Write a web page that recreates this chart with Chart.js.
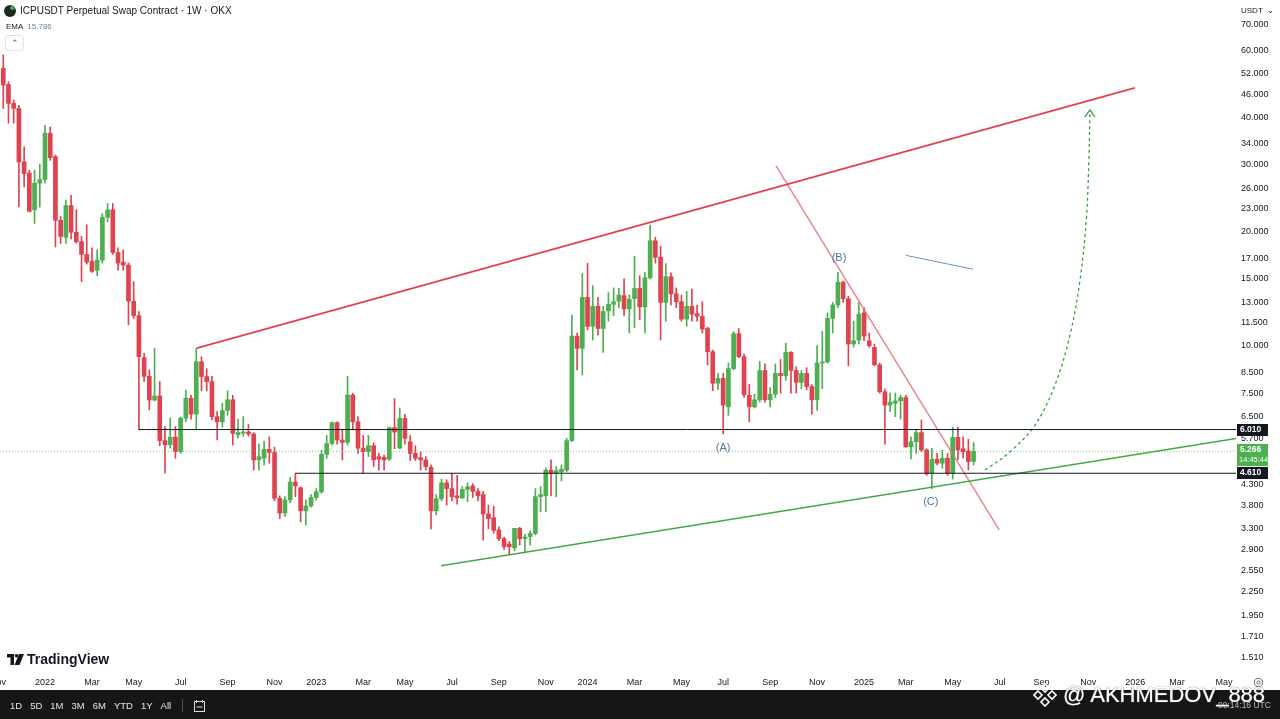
<!DOCTYPE html>
<html>
<head>
<meta charset="utf-8">
<title>ICPUSDT Perpetual Swap Contract 1W</title>
<script src="https://cdn.jsdelivr.net/npm/chart.js@4.4.1/dist/chart.umd.min.js"></script>
<style>
  html, body { margin: 0; padding: 0; background: #fff; overflow: hidden; }
  body { width: 1280px; height: 719px; position: relative; font-family: "Liberation Sans", Arial, sans-serif; color: #131722; }
  #chart { position: absolute; left: 0; top: 0; }
  .abs { position: absolute; white-space: nowrap; }
  #title { left: 20px; top: 5px; font-size: 10px; }
  #coin { left: 4px; top: 5px; width: 12px; height: 12px; border-radius: 50%; background: #1d2a22; }
  #coin:after { content: ""; position: absolute; left: 6px; top: 1px; width: 5px; height: 4px; border-radius: 50%; background: #3fa35a; }
  #ema { left: 6px; top: 22px; font-size: 8px; }
  #ema span { color: #5d83ad; margin-left: 4px; }
  #collapse { left: 5px; top: 35px; width: 17px; height: 14px; border: 1px solid #e0e3eb; border-radius: 3px; font-size: 9px; text-align: center; line-height: 14px; color: #555; }
  #usdt { left: 1241px; top: 6px; font-size: 8px; }
  #tvlogo { left: 7px; top: 651px; font-size: 14px; font-weight: bold; display: flex; align-items: center; gap: 3px; }
  #gear { left: 1253px; top: 677px; }
  #bar { left: 0; top: 690px; width: 1280px; height: 29px; background: #161616; }
  #ranges { left: 10px; top: 699px; font-size: 9.5px; color: #e6e6e6; display: flex; gap: 8px; align-items: center; }
  #ranges .sep { width: 1px; height: 13px; background: #555; margin: 0 3px; }
  #clock { left: 1218px; top: 700px; font-size: 8.5px; color: #bbb; }
  #mark { left: 1033px; top: 682px; display: flex; align-items: center; gap: 6px; font-size: 22px; color: #fff; text-shadow: 0 0 1px #777, 0 0 1px #777; }
</style>
</head>
<body>
<canvas id="chart" width="1280" height="690"></canvas>

<div class="abs" id="coin"></div>
<div class="abs" id="title">ICPUSDT Perpetual Swap Contract · 1W · OKX</div>
<div class="abs" id="ema">EMA<span>15.786</span></div>
<div class="abs" id="collapse">&#8963;</div>
<div class="abs" id="usdt">USDT &nbsp;&#8964;</div>
<div class="abs" id="tvlogo">
  <svg width="17" height="11" viewBox="0 0 17 11"><path d="M0 0h7v11h-3.5v-7.5h-3.5z" fill="#131722"/><circle cx="9.5" cy="1.8" r="1.8" fill="#131722"/><path d="M12 0h5l-4.5 11h-5z" fill="#131722"/></svg>
  <span>TradingView</span>
</div>
<svg class="abs" id="gear" width="11" height="11" viewBox="0 0 11 11"><circle cx="5.5" cy="5.5" r="4.2" fill="none" stroke="#666" stroke-width="1"/><circle cx="5.5" cy="5.5" r="1.6" fill="none" stroke="#666" stroke-width="1"/></svg>
<div class="abs" id="bar"></div>
<div class="abs" id="ranges">
  <span>1D</span><span>5D</span><span>1M</span><span>3M</span><span>6M</span><span>YTD</span><span>1Y</span><span>All</span><span class="sep"></span>
  <svg width="11" height="12" viewBox="0 0 11 12"><rect x="0.5" y="1.5" width="10" height="10" fill="none" stroke="#ddd"/><path d="M2.5 0v3M8.5 0v3M2.5 7h6" stroke="#ddd"/></svg>
</div>
<div class="abs" id="clock">09:14:16 UTC</div>
<div class="abs" id="mark">
  <svg width="24" height="24" viewBox="0 0 24 24"><g fill="none" stroke="#fff" stroke-width="1.6"><path d="M12 1l4 4-4 4-4-4z"/><path d="M5 8l4 4-4 4-4-4z"/><path d="M19 8l4 4-4 4-4-4z"/><path d="M12 15l4 4-4 4-4-4z"/></g></svg>
  <span>@ AKHMEDOV_888</span>
</div>

<script>
// weekly candles, first one is the week of 8 Nov 2021
const firstWeek = '2021-11-08';
const opens = [
  53.8, 48.8, 43.5, 42.2, 30.5, 28.5, 22.8, 26.8, 27.4, 36.3,
  31.5, 21.4, 19.3, 23.4, 19.9, 18.8, 17.4, 16.7, 15.8, 16.8,
  21.8, 22.8, 17.6, 16.6, 16.3, 13.1, 12.0, 9.3, 8.3, 7.19,
  7.37, 5.62, 5.48, 5.74, 5.26, 6.44, 7.27, 6.6, 9.07, 8.29,
  8.04, 6.5, 6.3, 6.75, 7.2, 5.82, 5.88, 5.92, 5.85, 5.0,
  5.05, 5.33, 5.23, 3.96, 3.62, 3.92, 4.37, 4.22, 3.67, 3.78,
  3.98, 4.12, 5.17, 5.52, 6.27, 5.64, 5.56, 7.41, 6.3, 5.37,
  5.26, 5.45, 5.1, 5.08, 5.02, 6.08, 5.37, 6.43, 5.58, 5.2,
  5.07, 5.0, 4.78, 3.67, 3.95, 4.35, 4.2, 4.02, 3.97, 4.18,
  4.27, 4.13, 4.05, 3.6, 3.52, 3.27, 3.1, 3.0, 2.93, 3.3,
  3.1, 3.14, 3.2, 4.0, 4.02, 4.7, 4.61, 4.65, 4.7, 5.62,
  10.6, 9.84, 13.4, 11.25, 12.7, 11.1, 12.35, 12.85, 13.1, 13.55,
  12.5, 13.3, 14.15, 12.65, 15.1, 18.9, 17.1, 13.0, 15.2, 13.7,
  13.05, 11.75, 12.7, 12.15, 11.95, 11.1, 9.64, 7.96, 8.2, 6.9,
  8.7, 10.75, 9.35, 7.4, 6.9, 7.2, 8.6, 7.2, 7.45, 8.45,
  8.33, 9.6, 8.6, 8.0, 8.45, 7.8, 7.2, 9.0, 9.05, 11.8,
  12.8, 14.7, 13.3, 10.1, 10.35, 12.2, 10.3, 9.9, 8.9, 7.56,
  6.97, 7.05, 7.15, 7.3, 5.41, 5.58, 5.9, 5.31, 4.62, 5.02,
  4.9, 5.05, 4.62, 5.73, 5.35, 5.28, 4.95
];
const highs = [
  58.4, 49.6, 44.4, 43.0, 33.4, 29.0, 29.0, 30.1, 38.1, 37.7,
  31.8, 21.9, 24.2, 24.9, 22.8, 19.4, 20.8, 18.1, 17.9, 22.3,
  23.7, 23.7, 18.1, 17.9, 16.5, 14.75, 12.3, 9.55, 8.63, 9.85,
  8.04, 6.12, 6.45, 6.12, 6.48, 7.64, 7.4, 9.85, 9.35, 8.7,
  8.3, 6.7, 7.05, 7.6, 7.4, 6.4, 6.5, 6.2, 5.9, 5.5,
  5.6, 5.75, 5.4, 4.02, 4.0, 4.5, 4.61, 4.25, 3.92, 4.05,
  4.2, 5.3, 5.8, 6.3, 6.3, 5.99, 8.3, 7.5, 6.5, 5.8,
  5.8, 5.55, 5.2, 5.15, 6.1, 7.25, 6.85, 6.6, 5.8, 5.45,
  5.25, 5.1, 4.85, 4.05, 4.45, 4.43, 4.61, 4.55, 4.25, 4.35,
  4.33, 4.2, 4.13, 3.8, 3.78, 3.33, 3.13, 3.05, 3.3, 3.32,
  3.18, 3.25, 4.2, 4.25, 4.76, 5.0, 4.8, 4.85, 5.7, 12.06,
  10.8, 15.5, 16.47, 14.4, 13.4, 12.7, 13.8, 14.2, 14.15, 15.0,
  13.6, 17.2, 15.3, 15.6, 20.8, 19.3, 18.3, 16.45, 15.55, 14.2,
  13.6, 13.9, 14.1, 12.8, 13.05, 11.2, 9.74, 8.45, 8.45, 9.0,
  10.9, 11.1, 9.5, 7.9, 7.45, 9.1, 8.95, 7.75, 8.95, 9.2,
  10.15, 9.65, 8.8, 8.6, 8.75, 7.9, 10.0, 10.9, 12.2, 13.0,
  15.6, 14.8, 13.5, 11.6, 13.0, 12.6, 10.8, 10.1, 9.0, 7.7,
  7.5, 7.5, 7.4, 7.4, 5.75, 6.0, 6.37, 5.35, 5.36, 5.2,
  5.3, 5.2, 6.1, 6.1, 5.75, 5.66, 5.55
];
const lows = [
  42.2, 38.6, 38.6, 23.2, 26.2, 22.5, 21.0, 23.2, 26.8, 30.8,
  18.2, 18.6, 18.6, 19.1, 18.6, 14.75, 16.4, 15.6, 15.3, 16.5,
  21.2, 17.4, 15.8, 15.8, 11.35, 11.8, 6.01, 8.05, 6.77, 7.15,
  5.45, 4.62, 5.37, 5.05, 5.2, 6.3, 6.4, 6.03, 7.6, 7.6,
  6.37, 5.64, 6.1, 6.55, 5.47, 5.7, 5.77, 5.77, 4.7, 4.7,
  4.85, 4.9, 3.9, 3.5, 3.55, 3.85, 4.0, 3.43, 3.37, 3.75,
  3.92, 4.08, 5.05, 5.47, 5.5, 5.0, 5.47, 6.0, 5.2, 4.61,
  5.1, 4.8, 4.7, 4.7, 4.98, 5.35, 5.35, 5.5, 4.98, 4.98,
  4.7, 4.7, 3.29, 3.58, 3.9, 3.8, 3.9, 3.82, 3.95, 3.88,
  3.98, 3.9, 3.07, 3.29, 3.2, 3.06, 2.9, 2.82, 2.88, 2.98,
  2.85, 2.98, 3.17, 3.65, 3.65, 4.02, 4.0, 4.4, 4.65, 5.58,
  8.63, 8.37, 11.0, 10.35, 10.65, 9.6, 11.6, 12.0, 12.6, 12.0,
  10.8, 11.15, 11.7, 10.8, 15.0, 16.5, 10.35, 11.6, 12.8, 12.6,
  11.6, 11.25, 11.6, 11.6, 10.8, 8.9, 7.6, 7.65, 5.85, 6.55,
  8.63, 9.3, 7.3, 6.3, 6.85, 7.1, 7.1, 6.9, 7.3, 7.5,
  8.1, 7.5, 7.5, 7.7, 7.65, 6.6, 6.75, 7.7, 9.0, 10.8,
  12.6, 13.0, 8.85, 9.9, 10.1, 10.3, 9.9, 8.85, 7.5, 5.5,
  6.7, 6.5, 6.4, 5.4, 5.03, 5.2, 5.25, 4.55, 4.2, 4.85,
  4.75, 4.55, 4.45, 5.0, 5.05, 4.7, 4.85
];
const closes = [
  48.6, 43.5, 42.2, 30.5, 28.4, 22.6, 26.8, 27.4, 36.3, 31.3,
  21.4, 19.4, 23.4, 19.9, 18.8, 17.4, 16.6, 15.7, 16.8, 21.8,
  22.8, 17.6, 16.5, 16.3, 13.1, 12.0, 9.35, 8.3, 7.19, 7.37,
  5.62, 5.48, 5.74, 5.26, 6.44, 7.27, 6.6, 9.07, 8.29, 8.04,
  6.5, 6.3, 6.75, 7.2, 5.87, 5.9, 5.92, 5.85, 5.0, 5.1,
  5.33, 5.23, 3.96, 3.62, 3.92, 4.37, 4.27, 3.67, 3.78, 3.98,
  4.12, 5.17, 5.52, 6.27, 5.64, 5.56, 7.41, 6.3, 5.37, 5.26,
  5.45, 5.0, 5.02, 5.0, 6.08, 5.92, 6.43, 5.7, 5.2, 5.05,
  5.0, 4.8, 3.67, 3.95, 4.35, 4.2, 4.0, 3.97, 4.18, 4.25,
  4.13, 4.02, 3.6, 3.5, 3.26, 3.1, 2.95, 2.95, 3.3, 3.1,
  3.13, 3.2, 4.0, 4.05, 4.7, 4.61, 4.68, 4.72, 5.62, 10.6,
  9.84, 13.4, 11.24, 12.7, 11.1, 12.3, 12.85, 13.05, 13.6, 12.5,
  13.25, 14.15, 12.65, 15.1, 18.9, 17.1, 13.0, 15.2, 13.7, 13.05,
  11.75, 12.7, 12.1, 11.95, 11.05, 9.64, 7.96, 8.2, 6.97, 8.7,
  10.75, 9.35, 7.42, 6.9, 7.2, 8.6, 7.2, 7.45, 8.45, 8.33,
  9.6, 8.6, 8.0, 8.45, 7.8, 7.2, 9.0, 9.05, 11.8, 12.8,
  14.7, 13.3, 10.1, 10.3, 12.1, 10.6, 10.0, 8.9, 7.56, 6.97,
  7.1, 7.15, 7.3, 5.41, 5.58, 5.9, 5.31, 4.6, 5.02, 4.9,
  5.05, 4.62, 5.73, 5.31, 5.25, 4.95, 5.266
];

// time axis: first week of each month, counted in weeks from firstWeek
const monthTicks = [-1, 8, 17, 25, 34, 43, 52, 60, 69, 77, 86, 95, 104, 112,
  121, 130, 138, 147, 156, 165, 173, 182, 191, 199, 208, 217, 225, 234];
const monthLabels = ['Nov', '2022', 'Mar', 'May', 'Jul', 'Sep', 'Nov', '2023', 'Mar', 'May', 'Jul', 'Sep', 'Nov', '2024',
  'Mar', 'May', 'Jul', 'Sep', 'Nov', '2025', 'Mar', 'May', 'Jul', 'Sep', 'Nov', '2026', 'Mar', 'May'];
const priceTicks = [70, 60, 52, 46, 40, 34, 30, 26, 23, 20, 17, 15, 13, 11.5, 10, 8.5, 7.5, 6.5, 5.7,
  4.3, 3.8, 3.3, 2.9, 2.55, 2.25, 1.95, 1.71, 1.51];

// drawings (week index, price)
const channelX = [37.1, 216.9];
const channelY = [9.85, 47.8];
const supportX = [83.9, 236.7];
const supportY = [2.63, 5.70];
const downX = [148.1, 190.9];
const downY = [29.8, 3.27];
const blueX = [173.0, 185.9];
const blueY = [17.3, 15.9];
const levels = [6.01, 4.61];
const levelStart = [26, 56];
const arcX = [188.2, 193.0, 197.8, 201.6, 204.5, 206.4, 207.6, 208.1, 208.3];
const arcY = [4.70, 5.25, 6.18, 7.88, 10.7, 14.9, 21.4, 30.9, 41.8];
const waveText = ['(A)', '(B)', '(C)'];
const waveX = [138.0, 160.2, 177.8];
const waveY = [5.37, 17.0, 3.87];
const lastPrice = 5.266;
const countdown = '14:45:44';

const UP = '#4caf50';
const DOWN = '#e0434f';
const FONT = '"Liberation Sans", Arial, sans-serif';
const xMin = -0.625, xMax = 236.3;

const idx = opens.map((_, i) => i);
const candleColor = idx.map(i => closes[i] >= opens[i] ? UP : DOWN);
const wickData = idx.map(i => ({ x: i, y: [lows[i], highs[i]] }));
const bodyData = idx.map(i => ({ x: i, y: [Math.min(opens[i], closes[i]), Math.max(opens[i], closes[i])] }));
const pts = (xs, ys) => xs.map((x, i) => ({ x: x, y: ys[i] }));

function lineSet(data, color, width, extra) {
    return Object.assign({
        type: 'line', data: data, borderColor: color, borderWidth: width,
        pointRadius: 0, fill: false, order: 1
    }, extra || {});
}

// wave labels, arrow head and price boxes
const overlay = {
    id: 'overlay',
    afterDatasetsDraw(chart) {
        const ctx = chart.ctx, xs = chart.scales.x, ys = chart.scales.y;
        ctx.save();
        ctx.font = '11px ' + FONT;
        ctx.fillStyle = '#4f78a4';
        ctx.textAlign = 'center';
        ctx.textBaseline = 'middle';
        waveText.forEach((t, i) => ctx.fillText(t, xs.getPixelForValue(waveX[i]), ys.getPixelForValue(waveY[i])));

        // arrow head on the dotted arc
        const n = arcX.length - 1;
        const tx = xs.getPixelForValue(arcX[n]), ty = ys.getPixelForValue(arcY[n]);
        ctx.strokeStyle = '#3a9e3a';
        ctx.lineWidth = 1.3;
        ctx.beginPath();
        ctx.moveTo(tx - 5, ty + 7);
        ctx.lineTo(tx, ty);
        ctx.lineTo(tx + 5, ty + 7);
        ctx.stroke();
        ctx.restore();
    },
    afterDraw(chart) {
        const ctx = chart.ctx, ys = chart.scales.y, area = chart.chartArea;
        const left = area.right + 1, w = 31;
        ctx.save();
        ctx.font = 'bold 8.5px ' + FONT;
        ctx.textAlign = 'left';
        ctx.textBaseline = 'middle';
        levels.forEach(v => {
            const y = Math.round(ys.getPixelForValue(v));
            ctx.fillStyle = '#131722';
            ctx.fillRect(left, y - 6, w, 12);
            ctx.fillStyle = '#fff';
            ctx.fillText(v.toFixed(3), left + 3, y);
        });
        const y = Math.round(ys.getPixelForValue(lastPrice));
        ctx.fillStyle = UP;
        ctx.fillRect(left, y - 7, w, 22);
        ctx.fillStyle = '#fff';
        ctx.fillText(lastPrice.toFixed(3), left + 3, y - 1);
        ctx.font = '7.5px ' + FONT;
        ctx.fillText(countdown, left + 2, y + 9);
        ctx.restore();
    }
};

const chart = new Chart(document.getElementById('chart').getContext('2d'), {
    type: 'bar',
    data: {
        datasets: [
            lineSet(pts([xMin, xMax], [lastPrice, lastPrice]), 'rgba(76,175,80,0.7)', 1, { borderDash: [1, 2] }),
            lineSet(pts([levelStart[0], xMax], [levels[0], levels[0]]), '#131722', 1),
            lineSet(pts([levelStart[1], xMax], [levels[1], levels[1]]), '#131722', 1),
            lineSet(pts(channelX, channelY), '#e2414e', 1.6),
            lineSet(pts(supportX, supportY), '#43a943', 1.5),
            lineSet(pts(downX, downY), 'rgba(232,110,120,0.85)', 1.5),
            lineSet(pts(blueX, blueY), '#6a93c8', 1),
            lineSet(pts(arcX, arcY), '#3a9e3a', 1.3, { borderDash: [3, 3], tension: 0.35 }),
            { label: 'wicks', data: wickData, backgroundColor: candleColor, barThickness: 1, grouped: false, order: 10 },
            { label: 'bodies', data: bodyData, backgroundColor: candleColor, barThickness: 4, grouped: false, minBarLength: 1, order: 9 }
        ]
    },
    options: {
        responsive: false,
        animation: false,
        events: [],
        layout: { padding: 0 },
        plugins: { legend: { display: false }, tooltip: { enabled: false } },
        scales: {
            x: {
                type: 'linear', min: xMin, max: xMax, bounds: 'data', offset: false,
                grid: { display: false, drawTicks: false }, border: { display: false },
                afterBuildTicks: s => { s.ticks = monthTicks.map(v => ({ value: v })); },
                afterFit: s => { s.height = 18; s.paddingLeft = 0; s.paddingRight = 0; },
                ticks: {
                    autoSkip: false, maxRotation: 0, padding: 5, color: '#131722',
                    font: { size: 9, family: FONT },
                    callback: v => monthLabels[monthTicks.indexOf(v)]
                }
            },
            y: {
                type: 'logarithmic', position: 'right', min: 1.38, max: 81.47, bounds: 'data',
                grid: { display: false, drawTicks: false }, border: { display: false },
                afterBuildTicks: s => { s.ticks = priceTicks.map(v => ({ value: v })); },
                afterFit: s => { s.width = 44; s.paddingTop = 0; s.paddingBottom = 0; },
                ticks: {
                    padding: 5, color: '#131722', font: { size: 9, family: FONT },
                    callback: v => Number(v).toFixed(3)
                }
            }
        }
    },
    plugins: [overlay]
});
</script>
</body>
</html>
